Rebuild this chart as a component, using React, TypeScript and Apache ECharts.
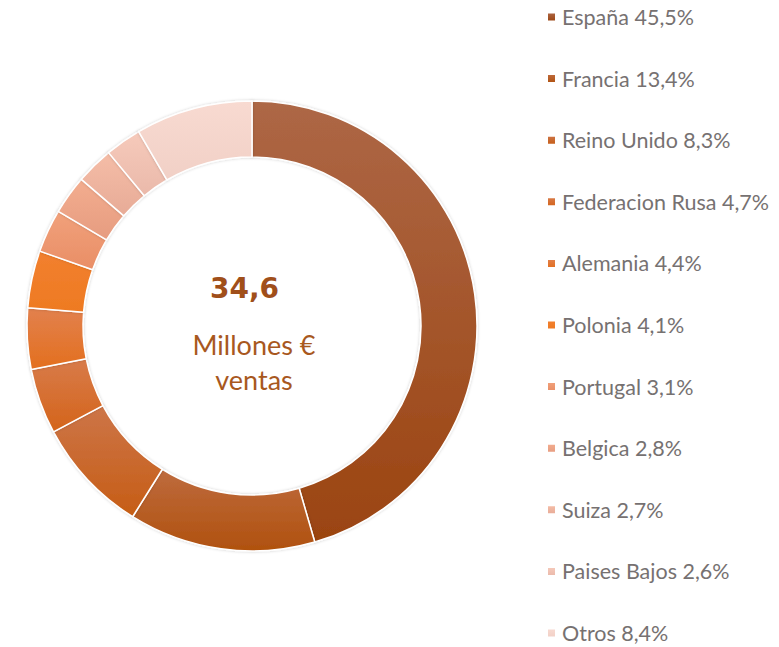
import React, { useEffect, useRef } from "react";
import * as echarts from "echarts";

const countries = ["España", "Francia", "Reino Unido", "Federacion Rusa", "Alemania", "Polonia", "Portugal", "Belgica", "Suiza", "Paises Bajos", "Otros"];
const shares = [45.5, 13.4, 8.3, 4.7, 4.4, 4.1, 3.1, 2.8, 2.7, 2.6, 8.4];
const totalLabel = "34,6";
const subLabel = "Millones €\nventas";

const topColors = ["#AD6746", "#BE6B3E", "#CD7548", "#D87B4A", "#E2814E", "#F2802F", "#F1A17B", "#F3AD8F", "#F5BDA7", "#F6CABB", "#F8DAD1"];
const bottomColors = ["#9B4410", "#B0510E", "#C65D15", "#D4641A", "#E36F1E", "#EE7A22", "#E98E66", "#E69C80", "#E7AB97", "#EAB9AA", "#F1D0C6"];

const fmt = (v: number) => v.toFixed(1).replace(".", ",");

export default function App() {
  const ref = useRef<HTMLDivElement>(null);
  useEffect(() => {
    if (!ref.current) return;
    const chart = echarts.init(ref.current, undefined, { renderer: "svg" });
    const data = countries.map((name, i) => ({
      name,
      value: shares[i],
      itemStyle: {
        color: new echarts.graphic.LinearGradient(0, 0, 0, 1, [
          { offset: 0, color: topColors[i] },
          { offset: 1, color: bottomColors[i] },
        ]),
      },
    }));
    chart.setOption({
      animation: false,
      backgroundColor: "#ffffff",
      legend: {
        orient: "vertical",
        left: 546,
        top: 6,
        height: 720,
        padding: 0,
        icon: "rect",
        itemWidth: 9,
        itemHeight: 9,
        itemGap: 39.6,
        selectedMode: false,
        formatter: (name: string) => {
          const i = countries.indexOf(name);
          return `${name} ${fmt(shares[i])}%`;
        },
        textStyle: {
          color: "#767171",
          fontSize: 21.5,
          fontFamily: "Lato",
          padding: [0, 0, 0, 1],
        },
        data: countries,
      },
      graphic: [
        {
          type: "text",
          left: 210,
          top: 274,
          style: {
            text: totalLabel,
            font: "900 28px 'DejaVu Sans'",
            fill: "#A04F1A",
          },
        },
        {
          type: "text",
          x: 254,
          y: 362,
          style: {
            text: subLabel,
            font: "27px Lato",
            fill: "#A8581E",
            align: "center",
            verticalAlign: "middle",
            lineHeight: 35,
          },
        },
      ],
      series: [
        {
          type: "pie",
          center: [252, 326],
          radius: [169, 225],
          startAngle: 90,
          clockwise: true,
          label: { show: false },
          labelLine: { show: false },
          silent: true,
          itemStyle: {
            borderColor: "#ffffff",
            borderWidth: 1.5,
            shadowBlur: 3,
            shadowColor: "rgba(0,0,0,0.2)",
          },
          data,
        },
      ],
    });
    return () => chart.dispose();
  }, []);
  return <div ref={ref} style={{ position: "absolute", left: 0, top: 0, width: 779, height: 647 }} />;
}
